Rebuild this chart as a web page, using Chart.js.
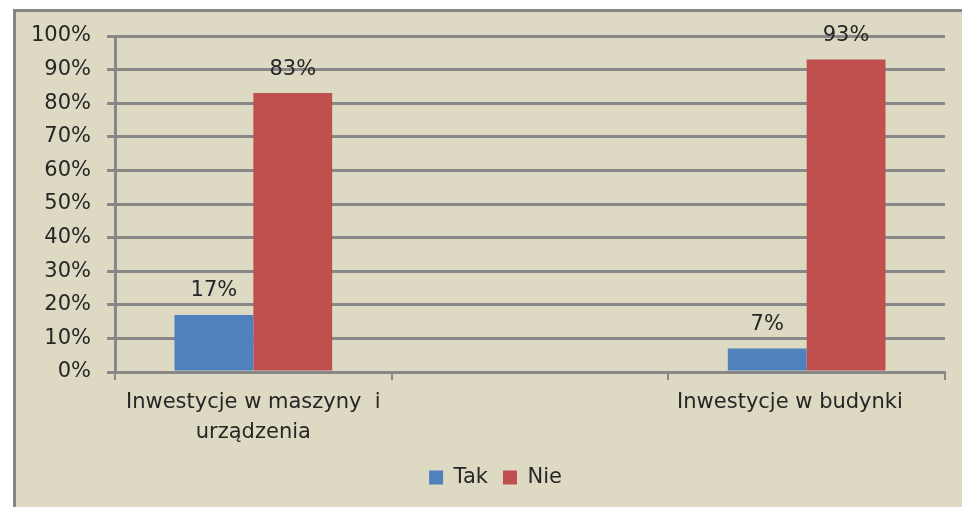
<!DOCTYPE html>
<html>
<head>
<meta charset="utf-8">
<script src="https://cdn.jsdelivr.net/npm/chart.js@4.4.1/dist/chart.umd.min.js"></script>
<style>
    html, body { margin: 0; background: #ffffff; overflow: hidden; }
    #frame {
        position: absolute;
        left: 13px;
        top: 9px;
        width: 1000px;
        height: 540px;
        background: #ddd9c3;
        border-left: 3px solid #868686;
        border-top: 3px solid #868686;
    }
    canvas { display: block; }
</style>
</head>
<body>
<div id="frame"><canvas id="chart" width="946" height="495"></canvas></div>
<script>
// Categories (the middle slot is empty in the original chart)
const categories = [['Inwestycje w maszyny  i', 'urządzenia'], '', 'Inwestycje w budynki     '];
const takValues = [17, null, 7];
const nieValues = [83, null, 93];
const yTicks = [0, 10, 20, 30, 40, 50, 60, 70, 80, 90, 100];

const fontFamily = '"DejaVu Sans", sans-serif';
const textColor = '#262626';
const gridColor = '#888888';

// Draw value labels above each bar
const valueLabels = {
    id: 'valueLabels',
    afterDatasetsDraw(chart) {
        const ctx = chart.ctx;
        ctx.save();
        ctx.font = '21px ' + fontFamily;
        ctx.fillStyle = textColor;
        ctx.textAlign = 'center';
        ctx.textBaseline = 'middle';
        chart.data.datasets.forEach((ds, i) => {
            chart.getDatasetMeta(i).data.forEach((bar, j) => {
                if (ds.data[j] == null) return;
                ctx.fillText(ds.data[j] + '%', bar.x, bar.y - 24);
            });
        });
        ctx.restore();
    }
};

const ctx = document.getElementById('chart').getContext('2d');
new Chart(ctx, {
    type: 'bar',
    data: {
        labels: categories,
        datasets: [
            { label: 'Tak', data: takValues, backgroundColor: '#4f81bd' },
            { label: 'Nie', data: nieValues, backgroundColor: '#c0504d' },
        ],
    },
    options: {
        responsive: false,
        animation: false,
        categoryPercentage: 0.57,
        barPercentage: 1,
        layout: { padding: { top: 24, right: 2, bottom: 9, left: 15 } },
        plugins: {
            legend: {
                position: 'bottom',
                labels: {
                    boxWidth: 14,
                    boxHeight: 14,
                    padding: 15,
                    color: textColor,
                    font: { family: fontFamily, size: 21 },
                },
            },
            tooltip: { enabled: false },
        },
        scales: {
            x: {
                offset: true,
                grid: {
                    offset: true,
                    drawOnChartArea: false,
                    color: gridColor,
                    lineWidth: 2,
                    tickLength: 8,
                },
                border: { color: gridColor, width: 3 },
                ticks: {
                    color: textColor,
                    font: { family: fontFamily, size: 21, lineHeight: 1.43 },
                    maxRotation: 0,
                    autoSkip: false,
                    padding: 8,
                },
                afterFit(scale) {
                    scale.height = 80;
                    scale.paddingRight = 17;
                },
            },
            y: {
                min: 0,
                max: 100,
                afterBuildTicks(scale) { scale.ticks = yTicks.map(v => ({ value: v })); },
                grid: { color: gridColor, lineWidth: 3, tickLength: 8 },
                border: { color: gridColor, width: 3 },
                ticks: {
                    color: textColor,
                    font: { family: fontFamily, size: 21 },
                    padding: 16,
                    callback: v => v + '%',
                },
                afterFit(scale) {
                    scale.width = 84;
                    scale.paddingTop = 0;
                    scale.paddingBottom = 0;
                },
            },
        },
    },
    plugins: [valueLabels],
});
</script>
</body>
</html>
